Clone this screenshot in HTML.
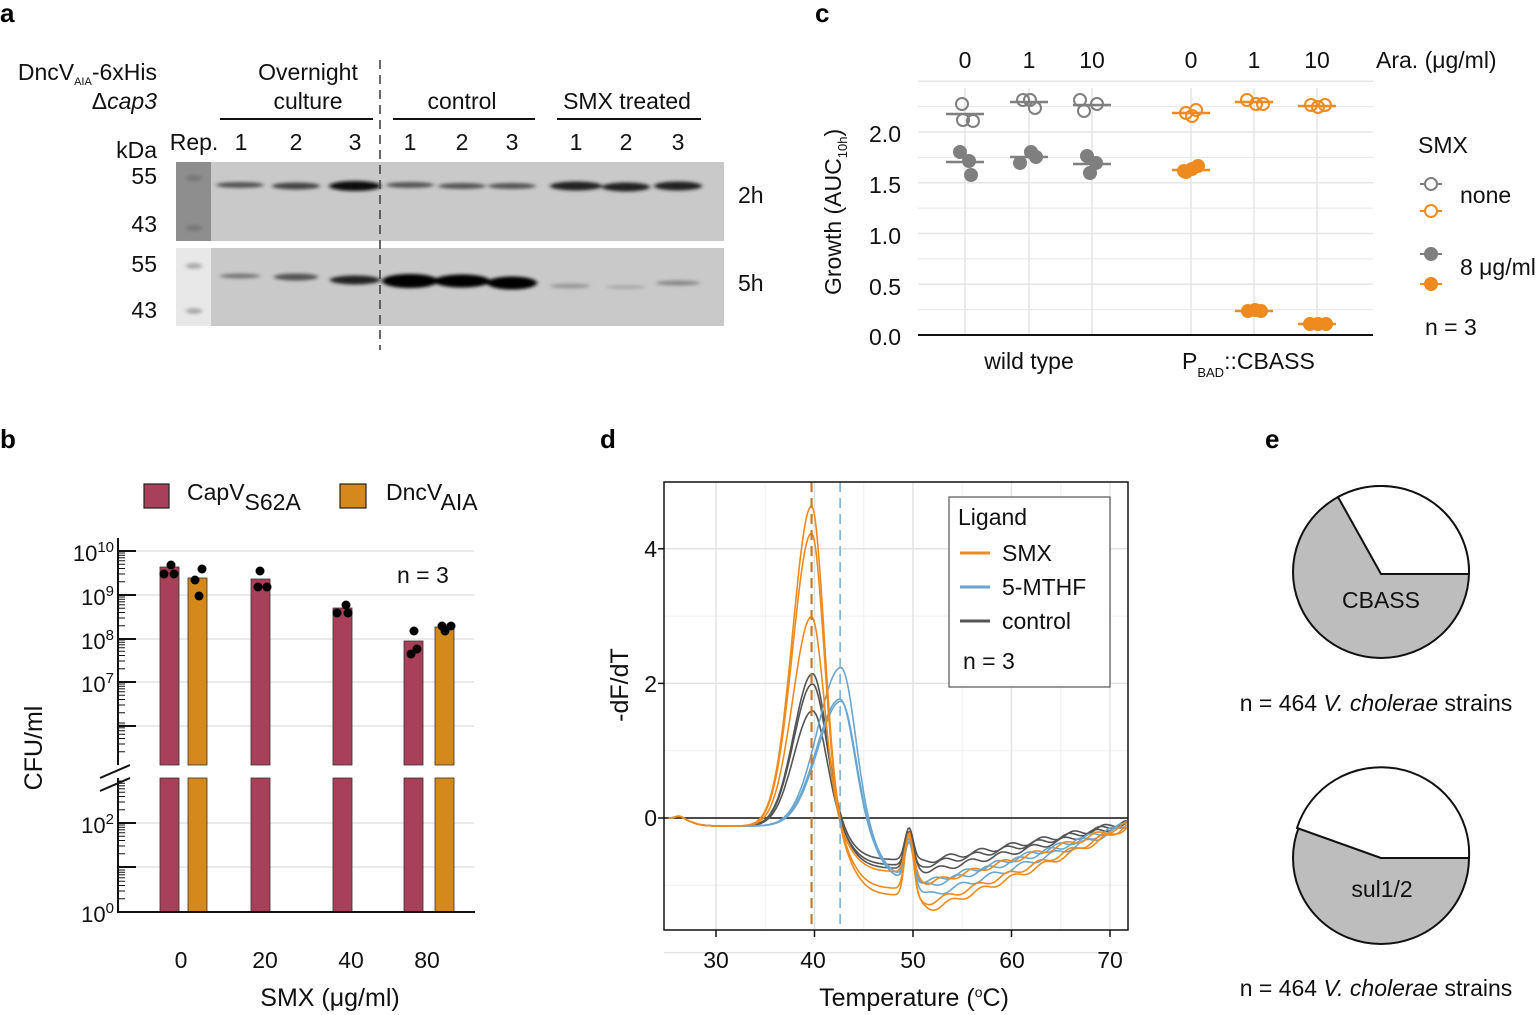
<!DOCTYPE html>
<html><head><meta charset="utf-8"><style>
html,body{margin:0;padding:0;background:#fff;}
svg{display:block;font-family:"Liberation Sans",Arial,sans-serif;}
</style></head><body>
<svg id="s" width="1540" height="1015" viewBox="0 0 1540 1015" xmlns="http://www.w3.org/2000/svg">
<g font-weight="bold" font-size="26" fill="#000">
<text x="0" y="22">a</text><text x="0" y="448">b</text><text x="815" y="22">c</text><text x="600" y="448">d</text><text x="1265" y="448">e</text>
</g>

<!-- Panel a -->
<g font-size="23" fill="#111">
<text x="157" y="80" text-anchor="end">DncV<tspan font-size="11" dy="5">AIA</tspan><tspan dy="-5">-6xHis</tspan></text>
<text x="157" y="109" text-anchor="end">Δ<tspan font-style="italic">cap3</tspan></text>
<text x="308" y="80" text-anchor="middle">Overnight</text>
<text x="308" y="109" text-anchor="middle">culture</text>
<text x="462" y="109" text-anchor="middle">control</text>
<text x="627" y="109" text-anchor="middle">SMX treated</text>
<text x="157" y="158" text-anchor="end">kDa</text>
<text x="194" y="150" text-anchor="middle">Rep.</text>
<g text-anchor="middle">
<text x="241" y="150">1</text><text x="296" y="150">2</text><text x="355" y="150">3</text>
<text x="410" y="150">1</text><text x="462" y="150">2</text><text x="512" y="150">3</text>
<text x="576" y="150">1</text><text x="626" y="150">2</text><text x="678" y="150">3</text>
</g>
<g text-anchor="end"><text x="157" y="184">55</text><text x="157" y="232">43</text><text x="157" y="272">55</text><text x="157" y="318">43</text></g>
<text x="738" y="203">2h</text><text x="738" y="291">5h</text>
</g>
<g stroke="#111" stroke-width="2"><line x1="220" y1="119" x2="373" y2="119"/><line x1="393" y1="119" x2="535" y2="119"/><line x1="557" y1="119" x2="701" y2="119"/></g>
<defs>
<filter id="bl" x="-20%" y="-100%" width="140%" height="300%"><feGaussianBlur stdDeviation="2 1.6"/></filter>
</defs>
<rect x="176" y="162" width="548" height="79" fill="#c9c9c9"/>
<rect x="176" y="162" width="35" height="79" fill="#8e8e8e"/>
<rect x="176" y="248" width="548" height="78" fill="#c9c9c9"/>
<rect x="176" y="248" width="35" height="78" fill="#e8e8e8"/>
<g filter="url(#bl)">
<ellipse cx="194" cy="178" rx="8" ry="3" fill="#777"/><ellipse cx="194" cy="228" rx="8" ry="3" fill="#777"/>
<ellipse cx="194" cy="266" rx="8" ry="3" fill="#aaa"/><ellipse cx="194" cy="311" rx="8" ry="3" fill="#aaa"/>
<ellipse cx="240" cy="185" rx="24" ry="3" fill="#555"/><ellipse cx="296" cy="186" rx="24" ry="3.5" fill="#444"/><ellipse cx="355" cy="186" rx="26" ry="5" fill="#111"/>
<ellipse cx="410" cy="185" rx="24" ry="3" fill="#555"/><ellipse cx="462" cy="186" rx="24" ry="3" fill="#555"/><ellipse cx="512" cy="186" rx="24" ry="3" fill="#555"/>
<ellipse cx="576" cy="186" rx="26" ry="4.5" fill="#222"/><ellipse cx="626" cy="187" rx="24" ry="4.5" fill="#222"/><ellipse cx="678" cy="186" rx="24" ry="4.5" fill="#222"/>
<ellipse cx="240" cy="276" rx="20" ry="2.5" fill="#777"/><ellipse cx="296" cy="277" rx="22" ry="3.5" fill="#555"/><ellipse cx="355" cy="280" rx="25" ry="4.5" fill="#222"/>
<ellipse cx="410" cy="281" rx="28" ry="7" fill="#000"/><ellipse cx="462" cy="281" rx="28" ry="6.5" fill="#000"/><ellipse cx="512" cy="283" rx="25" ry="6.5" fill="#000"/>
<ellipse cx="570" cy="286" rx="20" ry="2.5" fill="#999"/><ellipse cx="626" cy="287" rx="20" ry="2" fill="#aaa"/><ellipse cx="678" cy="283" rx="22" ry="2.5" fill="#888"/>
</g>
<line x1="380" y1="60" x2="380" y2="350" stroke="#444" stroke-width="1.6" stroke-dasharray="9,6"/>

<!-- Panel b -->
<g id="pb"></g>
<g fill="#111" font-size="23">
<rect x="144" y="484" width="25" height="24" fill="#a8405a" stroke="#222" stroke-width="1.2"/>
<text x="187" y="500">CapV<tspan dy="10">S62A</tspan></text>
<rect x="340" y="484" width="26" height="24" fill="#d4891a" stroke="#222" stroke-width="1.2"/>
<text x="386" y="500">DncV<tspan dy="10">AIA</tspan></text>
<text x="397" y="583">n = 3</text>
<g text-anchor="middle"><text x="181" y="968">0</text><text x="265" y="968">20</text><text x="351" y="968">40</text><text x="427" y="968">80</text></g>
<text x="330" y="1006" text-anchor="middle" font-size="25">SMX (μg/ml)</text>
<text transform="translate(42,748) rotate(-90)" text-anchor="middle" font-size="25">CFU/ml</text>
<g text-anchor="end" font-size="22">
<text x="114" y="561">10<tspan font-size="15" dy="-9">10</tspan></text>
<text x="114" y="605">10<tspan font-size="15" dy="-9">9</tspan></text>
<text x="114" y="649">10<tspan font-size="15" dy="-9">8</tspan></text>
<text x="114" y="692">10<tspan font-size="15" dy="-9">7</tspan></text>
<text x="114" y="833">10<tspan font-size="15" dy="-9">2</tspan></text>
<text x="114" y="922">10<tspan font-size="15" dy="-9">0</tspan></text>
</g>
</g>

<!-- Panel c -->
<g id="pc"></g>
<g fill="#111" font-size="23">
<g text-anchor="middle"><text x="965" y="68">0</text><text x="1029" y="68">1</text><text x="1092" y="68">10</text>
<text x="1191" y="68">0</text><text x="1254" y="68">1</text><text x="1317" y="68">10</text></g>
<text x="1376" y="68">Ara. (μg/ml)</text>
<g text-anchor="end"><text x="901" y="142">2.0</text><text x="901" y="193">1.5</text><text x="901" y="244">1.0</text><text x="901" y="295">0.5</text><text x="901" y="345">0.0</text></g>
<text x="1029" y="369" text-anchor="middle">wild type</text>
<text x="1182" y="369">P<tspan font-size="13" dy="8">BAD</tspan><tspan dy="-8">::CBASS</tspan></text>
<text transform="translate(841,295) rotate(-90)">Growth (AUC<tspan font-size="13" dy="6">10h</tspan><tspan dy="-6">)</tspan></text>
<text x="1418" y="153">SMX</text>
<text x="1460" y="203">none</text>
<text x="1460" y="275">8 μg/ml</text>
<text x="1425" y="335">n = 3</text>
</g>

<!-- Panel d -->
<g id="pd"></g>
<g fill="#111" font-size="23">
<g text-anchor="end"><text x="657" y="557">4</text><text x="657" y="692">2</text><text x="657" y="826">0</text></g>
<g text-anchor="middle"><text x="716" y="968">30</text><text x="813" y="968">40</text><text x="913" y="968">50</text><text x="1012" y="968">60</text><text x="1110" y="968">70</text></g>
<text x="914" y="1006" text-anchor="middle" font-size="25">Temperature (<tspan font-size="14" dy="-9">o</tspan><tspan dy="9">C)</tspan></text>
<text transform="translate(628,685) rotate(-90)" text-anchor="middle" font-size="25">-dF/dT</text>
</g>

<!-- Panel e -->
<ellipse cx="1381" cy="572" rx="88" ry="86" fill="#bdbdbd" stroke="#111" stroke-width="2"/>
<path d="M1381 574 L1338 497 A88 86 0 0 1 1469 574 Z" fill="#fff" stroke="#111" stroke-width="2"/>
<ellipse cx="1381" cy="858" rx="88" ry="86" fill="#bdbdbd" stroke="#111" stroke-width="2"/>
<path d="M1381 858 L1297 828 A88 86 0 0 1 1469 858 Z" fill="#fff" stroke="#111" stroke-width="2"/>
<g fill="#111" font-size="23" text-anchor="middle">
<text x="1381" y="608">CBASS</text><text x="1382" y="897">sul1/2</text>
<text x="1376" y="711">n = 464 <tspan font-style="italic">V. cholerae</tspan> strains</text>
<text x="1376" y="996">n = 464 <tspan font-style="italic">V. cholerae</tspan> strains</text>
</g>
</svg>
<script>
var NS="http://www.w3.org/2000/svg";
function el(p,t,a){var e=document.createElementNS(NS,t);for(var k in a)e.setAttribute(k,a[k]);document.getElementById(p).appendChild(e);return e;}
// Panel b
[551,595,639,682,726,823,867].forEach(function(y){el("pb","line",{x1:120,x2:474,y1:y,y2:y,stroke:"#ddd","stroke-width":1.2});});
var decs=[[551,595],[595,639],[639,682],[682,726],[726,765],[778,823],[823,867],[867,912]];
for(var d=0;d<8;d++){var yb=decs[d][1],yt=decs[d][0],h=44;for(var m=2;m<10;m++){var y=yb-Math.log10(m)*h;if(y<yt-0.5&&d!=4)continue;if(y<765||y>778)el("pb","line",{x1:118,x2:125,y1:y,y2:y,stroke:"#111","stroke-width":1});}}
[551,595,639,682,726,823,867,912].forEach(function(y){el("pb","line",{x1:118,x2:136,y1:y,y2:y,stroke:"#111","stroke-width":2});});
var bars=[[160,567,"#a8405a"],[188,578,"#d4891a"],[251,579,"#a8405a"],[333,608,"#a8405a"],[404,641,"#a8405a"],[435,627,"#d4891a"]];
bars.forEach(function(b){el("pb","rect",{x:b[0],y:b[1],width:19,height:765-b[1],fill:b[2],stroke:"#333","stroke-width":0.8});el("pb","rect",{x:b[0],y:778,width:19,height:134,fill:b[2],stroke:"#333","stroke-width":0.8});});
el("pb","line",{x1:118,x2:118,y1:538,y2:765,stroke:"#111","stroke-width":2});
el("pb","line",{x1:118,x2:118,y1:778,y2:913,stroke:"#111","stroke-width":2});
el("pb","line",{x1:117,x2:475,y1:912,y2:912,stroke:"#111","stroke-width":2});
el("pb","line",{x1:100,x2:130,y1:778,y2:765,stroke:"#111","stroke-width":2});
el("pb","line",{x1:100,x2:130,y1:791,y2:778,stroke:"#111","stroke-width":2});
[[171,565],[164,574],[174,574],[202,569],[195,580],[199,596],[260,571],[258,587],[267,587],[346,605],[337,613],[348,613],[414,631],[411,654],[417,649],[442,626],[445,631],[451,626]].forEach(function(p){el("pb","circle",{cx:p[0],cy:p[1],r:4.5,fill:"#000"});});
// Panel c
for(var v=0;v<=2.5;v+=0.25){var y=335-v*101.5;if(v>0)el("pc","line",{x1:918,x2:1373,y1:y,y2:y,stroke:"#e6e6e6","stroke-width":v%0.5==0?1.6:1});}
[965,1029,1092,1191,1254,1317].forEach(function(x){el("pc","line",{x1:x,x2:x,y1:88,y2:335,stroke:"#e6e6e6","stroke-width":1.6});});
el("pc","line",{x1:918,x2:1373,y1:335,y2:335,stroke:"#111","stroke-width":2});
var G="#7f7f7f",O="#ee8a1e";
var grp=[
[G,0,114,[[962,104],[963,120],[973,121]],965],[G,1,162,[[960,152],[969,161],[971,175]],965],
[G,0,102,[[1023,100],[1030,100],[1035,108]],1029],[G,1,157,[[1020,163],[1031,152],[1036,157]],1029],
[G,0,105,[[1080,100],[1084,111],[1097,104]],1092],[G,1,164,[[1087,156],[1096,163],[1090,173]],1092],
[O,0,113,[[1186,113],[1196,110],[1192,116]],1191],[O,1,170,[[1184,171],[1192,169],[1198,166],[1186,172]],1191],
[O,0,102,[[1247,100],[1256,104],[1263,104]],1254],[O,1,311,[[1248,311],[1255,310],[1261,311]],1254],
[O,0,106,[[1311,105],[1318,107],[1325,105]],1317],[O,1,324,[[1310,324],[1318,324],[1326,324]],1317]];
grp.forEach(function(g){el("pc","line",{x1:g[4]-19,x2:g[4]+19,y1:g[2],y2:g[2],stroke:g[0],"stroke-width":2.5});
g[3].forEach(function(p){el("pc","circle",{cx:p[0],cy:p[1],r:6,fill:g[1]?g[0]:"none",stroke:g[0],"stroke-width":2});});});
[[184,G,0],[211,O,0],[254,G,1],[284,O,1]].forEach(function(k){el("pc","line",{x1:1420,x2:1442,y1:k[0],y2:k[0],stroke:k[1],"stroke-width":2});el("pc","circle",{cx:1431,cy:k[0],r:6,fill:k[2]?k[1]:"#fff",stroke:k[1],"stroke-width":2});});
// Panel d
function X(T){return 716+(T-30)*9.85;} function Y(v){return 818-v*67.3;}
[35,45,55,65].forEach(function(t){el("pd","line",{x1:X(t),x2:X(t),y1:482,y2:930,stroke:"#f0f0f0","stroke-width":1});});
[-1,1,3].forEach(function(v){el("pd","line",{x1:664,x2:1128,y1:Y(v),y2:Y(v),stroke:"#f0f0f0","stroke-width":1});});
[30,40,50,60,70].forEach(function(t){el("pd","line",{x1:X(t),x2:X(t),y1:482,y2:930,stroke:"#e3e3e3","stroke-width":1.5});el("pd","line",{x1:X(t),x2:X(t),y1:930,y2:937,stroke:"#111","stroke-width":1.5});});
[-2,2,4].forEach(function(v){el("pd","line",{x1:664,x2:1128,y1:Y(v),y2:Y(v),stroke:"#e3e3e3","stroke-width":1.5});});
[0,2,4].forEach(function(v){el("pd","line",{x1:658,x2:664,y1:Y(v),y2:Y(v),stroke:"#111","stroke-width":1.5});});
el("pd","line",{x1:664,x2:1128,y1:818,y2:818,stroke:"#111","stroke-width":1.5});
function sg(x){return 1/(1+Math.exp(-x));}
function curve(A,Tm,sl,sr,c1,D1,D2,B,j){var pts=[];for(var T=25.2;T<=71.8;T+=0.15){var s=T<Tm?sl:sr;var v=A*Math.exp(-Math.pow((T-Tm)/s,2));
v+=-0.12*sg((T-27.5)/0.6)*(1-sg((T-c1+2)/1.5))+0.04*Math.exp(-Math.pow((T-26.3)/0.6,2));
var s1=sg((T-c1)/1.0),s2=sg((T-50.7)/0.4);var dec=Math.pow(Math.max(0,(72-T)/21),0.9)+0.08;
v+=-s1*(D1*(1-s2)+D2*s2*dec)+B*Math.exp(-Math.pow((T-49.6)/0.6,2))*s1+0.04*Math.sin(T*2+j)*s2;
pts.push(X(T).toFixed(1)+","+Y(v).toFixed(1));}return "M"+pts.join("L");}
var cs=[
["#555",2.25,39.8,2.7,2.0,43.4,0.62,0.6,0.48,1],["#555",2.1,39.8,2.7,2.0,43.4,0.75,0.65,0.55,2],["#555",1.7,39.8,2.7,2.0,43.4,0.7,0.75,0.5,3],
["#6aa6cf",2.35,42.7,3.4,2.0,46.2,0.9,0.9,0.6,4],["#6aa6cf",1.88,42.6,3.4,2.0,46.2,0.95,1.1,0.65,5],["#6aa6cf",1.85,42.7,3.4,2.0,46.2,0.95,0.95,0.6,6],
["#ee8a1e",4.75,39.7,2.7,1.8,43.4,1.05,1.3,0.85,7],["#ee8a1e",4.35,39.7,2.7,1.8,43.4,1.15,1.2,0.95,8],["#ee8a1e",3.1,39.7,2.7,1.8,43.4,0.8,0.92,0.55,9]];
cs.forEach(function(c){el("pd","path",{d:curve(c[1],c[2],c[3],c[4],c[5],c[6],c[7],c[8],c[9]),fill:"none",stroke:c[0],"stroke-width":1.6});});
el("pd","line",{x1:X(39.7),x2:X(39.7),y1:482,y2:930,stroke:"#c97a2a","stroke-width":2.2,"stroke-dasharray":"10,6"});
el("pd","line",{x1:X(42.6),x2:X(42.6),y1:482,y2:930,stroke:"#6aa6cf","stroke-width":1.4,"stroke-dasharray":"10,6"});
el("pd","rect",{x:664,y:482,width:464,height:448,fill:"none",stroke:"#111","stroke-width":1.5});
el("pd","rect",{x:949,y:497,width:161,height:190,fill:"#fff",stroke:"#555","stroke-width":1.2});
[[553,"#ee8a1e"],[587,"#6aa6cf"],[621,"#555"]].forEach(function(k){el("pd","line",{x1:960,x2:990,y1:k[0],y2:k[0],stroke:k[1],"stroke-width":3});});
var lt=[["Ligand",958,525],["SMX",1002,561],["5-MTHF",1002,595],["control",1002,629],["n = 3",963,669]];
lt.forEach(function(t){var e=el("pd","text",{x:t[1],y:t[2],"font-size":23,fill:"#111"});e.textContent=t[0];});
</script>
</body></html>
